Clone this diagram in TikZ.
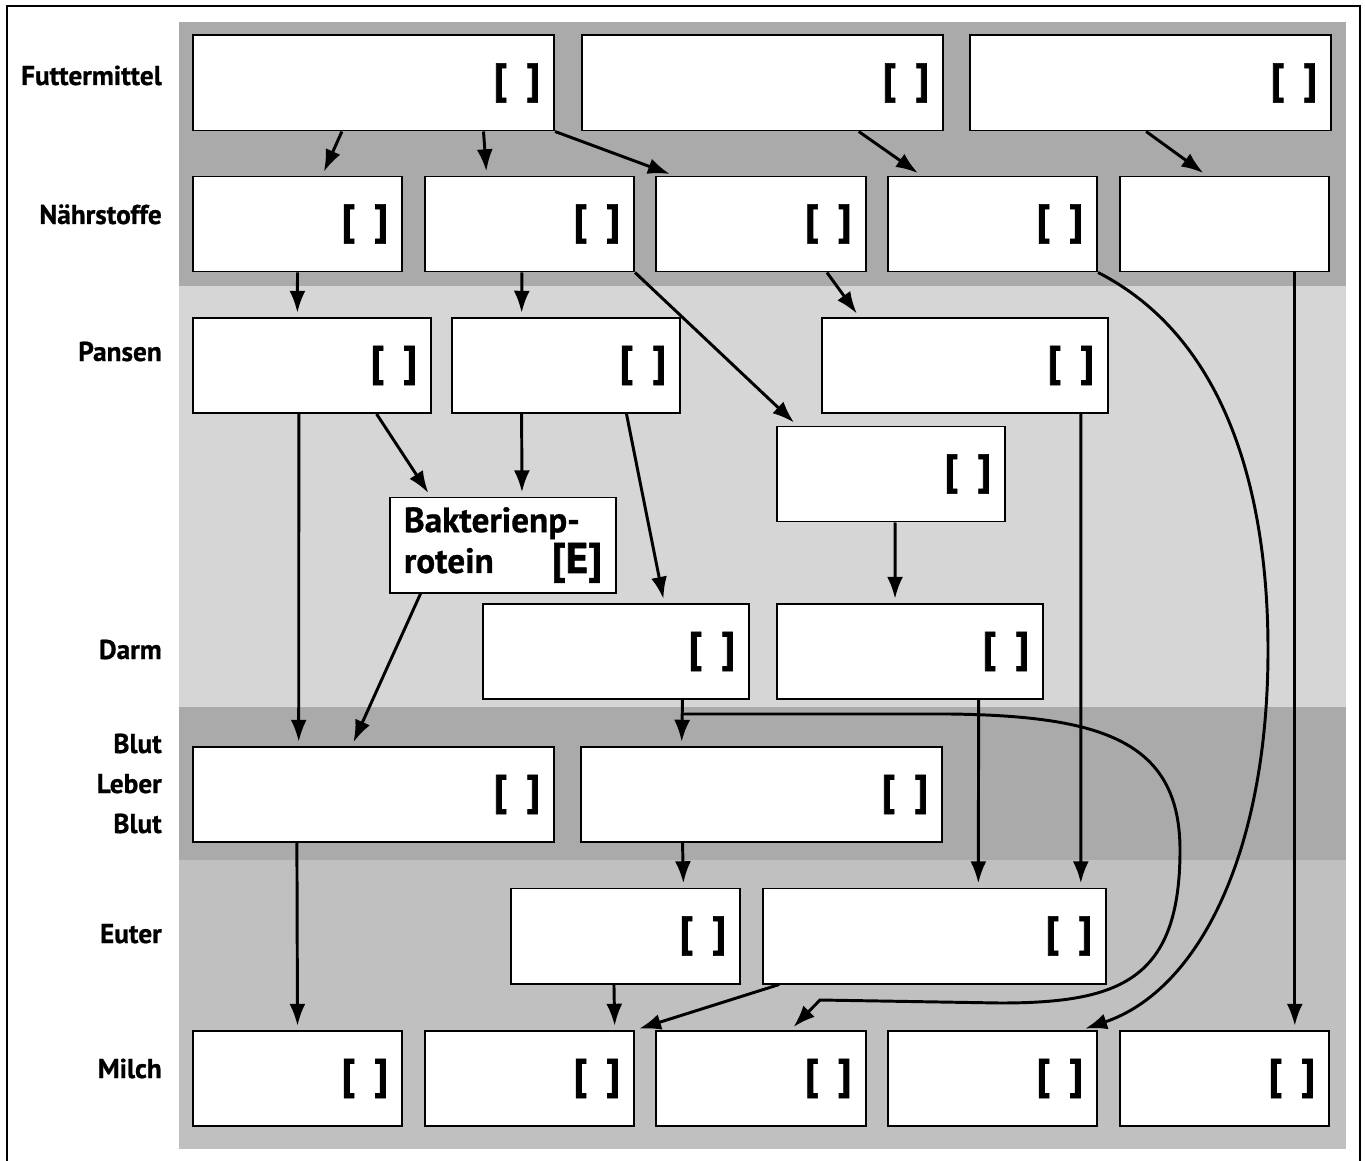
\documentclass[tikz,border=0pt]{standalone}
\usepackage{fontspec}
\setmainfont{PT Sans}
\usetikzlibrary{arrows.meta,calc}
\definecolor{bandDunkel}{HTML}{AAAAAA}
\definecolor{bandHell}{HTML}{D6D6D6}
\definecolor{bandMittel}{HTML}{C0C0C0}
\newcommand\tagfont{\bfseries\fontsize{30}{32}\selectfont\addfontfeatures{FakeBold=1.5}}
\newcommand\leer{[\hspace{.45em}]}

\begin{document}
\begin{tikzpicture}[x=0.025cm, y=-0.025cm, >={Latex[length=5.5mm,width=4mm]},
  box/.style={draw, fill=white, line width=1.4pt, minimum height=2.375cm,
    inner xsep=0.35cm, inner ysep=0pt, text width=#1, align=right, font=\tagfont},
  zeile/.style={anchor=base east, inner sep=0pt,
    font=\bfseries\fontsize{19.4}{22}\selectfont\addfontfeatures{FakeBold=0.8}},
  pfeil/.style={->, line width=2.1pt, shorten >=3pt}]
\useasboundingbox (0,0) rectangle (1365,1161);

% Baender
\fill[bandDunkel] (179,22) rectangle (1346,286);
\fill[bandHell] (179,286) rectangle (1346,707);
\fill[bandDunkel] (179,707) rectangle (1346,860);
\fill[bandMittel] (179,860) rectangle (1346,1149);
\draw[line width=1pt] (7,6) rectangle (1360,1164);

% Zeilen
\node[zeile] (lFutter) at (162,85) {Futtermittel};
\node[zeile] (lNaehr) at (162,224) {Nährstoffe};
\node[zeile] (lPansen) at (162,361) {Pansen};
\node[zeile] (lDarm) at (162,659) {Darm};
\node[zeile] (lBlutA) at (162,753) {Blut};
\node[zeile] (lLeber) at (162,793) {Leber};
\node[zeile] (lBlutB) at (162,833) {Blut};
\node[zeile] (lEuter) at (162,943) {Euter};
\node[zeile] (lMilch) at (162,1078) {Milch};

% Kaesten
\node[box=8.325cm] (F1) at (373.5,83) {\leer};
\node[box=8.325cm] (F2) at (762.5,83) {\leer};
\node[box=8.325cm] (F3) at (1150.5,83) {\leer};
\foreach \i/\x in {1/297.5,2/529.5,3/761,4/992.5}
{
    \node[box=4.525cm] (N\i) at (\x,224) {\leer};
}
\node[box=4.525cm] (N5) at (1224.5,224) {};
\node[box=5.25cm] (P1) at (312,365.5) {\leer};
\node[box=5cm] (P2) at (566,365.5) {\leer};
\node[box=6.45cm] (P3) at (965,365.5) {\leer};
\node[box=5cm] (P4) at (891,474) {\leer};
\node[box=4.95cm, inner xsep=0.36cm, align=left,
  font=\bfseries\fontsize{25}{29}\selectfont\addfontfeatures{FakeBold=0.8}] (Bak) at (503,545)
  {\mbox{Bakterienp-}\\rotein\hfill{\tagfont\fontsize{30.5}{32}\selectfont[E]}};
\node[box=5.95cm] (D1) at (616,651.5) {\leer};
\node[box=5.95cm] (D2) at (910,651.5) {\leer};
\node[box=8.325cm] (B1) at (373.5,794.5) {\leer};
\node[box=8.325cm] (B2) at (761.5,794.5) {\leer};
\node[box=5.025cm] (E1) at (625.5,936) {\leer};
\node[box=7.875cm] (E2) at (934.5,936) {\leer};
\foreach \i/\x in {1/297.5,2/529.5,3/761,4/992.5,5/1224.5}
{
    \node[box=4.525cm] (M\i) at (\x,1078.5) {\leer};
}

% Pfeile
\draw[pfeil] ($(F1.south west)!.413!(F1.south east)$) -- ($(N1.north west)!.617!(N1.north east)$);
\draw[pfeil] ($(F1.south west)!.803!(F1.south east)$) -- ($(N2.north west)!.297!(N2.north east)$);
\draw[pfeil] (F1.south east) -- ($(N3.north west)!.087!(N3.north east)$);
\draw[pfeil] ($(F2.south west)!.765!(F2.south east)$) -- ($(N4.north west)!.163!(N4.north east)$);
\draw[pfeil] ($(F3.south west)!.488!(F3.south east)$) -- ($(N5.north west)!.416!(N5.north east)$);

\draw[pfeil] (N1.south) -- ($(P1.north west)!.439!(P1.north east)$);
\draw[pfeil] ($(N2.south west)!.464!(N2.south east)$) -- ($(P2.north west)!.307!(P2.north east)$);
\draw[pfeil] (N2.south east) -- ($(P4.north west)!.092!(P4.north east)$);
\draw[pfeil] ($(N3.south west)!.8125!(N3.south east)$) -- ($(P3.north west)!.133!(P3.north east)$);
\draw[pfeil] (N4.south east) .. controls (1230,340) and (1268,500) .. (1268,650)
    .. controls (1268,850) and (1200,990) .. ($(M4.north west)!.92!(M4.north east)$);
\draw[pfeil] ($(N5.south west)!.833!(N5.south east)$) -- ($(M5.north west)!.833!(M5.north east)$);

\draw[pfeil] ($(P1.south west)!.445!(P1.south east)$) -- ($(B1.north west)!.294!(B1.north east)$);
\draw[pfeil] ($(P1.south west)!.769!(P1.south east)$) -- ($(Bak.north west)!.184!(Bak.north east)$);
\draw[pfeil] ($(P2.south west)!.307!(P2.south east)$) -- ($(Bak.north west)!.583!(Bak.north east)$);
\draw[pfeil] ($(P2.south west)!.763!(P2.south east)$) -- ($(D1.north west)!.68!(D1.north east)$);
\draw[pfeil] ($(P3.south west)!.902!(P3.south east)$) -- ($(E2.north west)!.924!(E2.north east)$);
\draw[pfeil] ($(P4.south west)!.518!(P4.south east)$) -- ($(D2.north west)!.444!(D2.north east)$);
\draw[pfeil] ($(Bak.south west)!.14!(Bak.south east)$) -- ($(B1.north west)!.44!(B1.north east)$);

\draw[pfeil] ($(D1.south west)!.748!(D1.south east)$) -- ($(B2.north west)!.28!(B2.north east)$);
\coordinate (abzweig) at ($(D1.south west)!.748!(D1.south east)+(0,14)$);
\draw[pfeil] (abzweig) -- (950,714) .. controls (1100,716) and (1180,740) .. (1180,850)
    .. controls (1180,980) and (1120,1003) .. (1000,1003) -- (820,1000)
    -- ($(M3.north west)!.64!(M3.north east)$);
\draw[pfeil] ($(D2.south west)!.756!(D2.south east)$) -- ($(E2.north west)!.627!(E2.north east)$);

\draw[pfeil] ($(B1.south west)!.289!(B1.south east)$) -- (M1.north);
\draw[pfeil] ($(B2.south west)!.2825!(B2.south east)$) -- ($(E1.north west)!.751!(E1.north east)$);
\draw[pfeil] ($(E1.south west)!.45!(E1.south east)$) -- ($(M2.north west)!.904!(M2.north east)$);
\draw[pfeil] ($(E2.south west)!.05!(E2.south east)$) -- (M2.north east);

    \end{tikzpicture}
\end{document}
